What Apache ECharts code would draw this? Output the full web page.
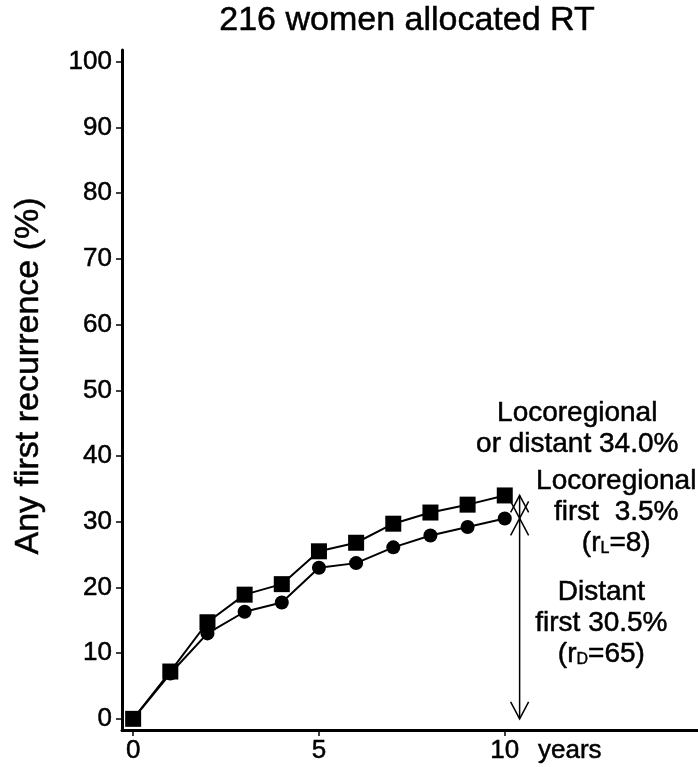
<!DOCTYPE html>
<html>
<head>
<meta charset="utf-8">
<title>216 women allocated RT</title>
<script src="https://cdn.jsdelivr.net/npm/echarts@6/dist/echarts.min.js"></script>
<style>
  html, body { margin: 0; padding: 0; background: #fff; }
  #chart { width: 698px; height: 767px; }
</style>
</head>
<body>
<div id="chart"></div>
<script>
// Follow-up time (years)
const years = [0, 1, 2, 3, 4, 5, 6, 7, 8, 9, 10];
// Cumulative any first recurrence, locoregional or distant (%)
const anyFirstRecurrence = [0, 7.2, 14.7, 18.9, 20.5, 25.5, 26.8, 29.7, 31.4, 32.6, 34.0];
// Cumulative distant first recurrence (%)
const distantFirst = [0, 6.9, 13.0, 16.3, 17.7, 23.0, 23.7, 26.1, 27.9, 29.2, 30.5];

// Axis ticks
const xTicks = [0, 5, 10];
const yTicks = [0, 10, 20, 30, 40, 50, 60, 70, 80, 90, 100];
const xUnit = 'years';

// Brackets at 10 years: [x, from, to] in axis units
const brackets = [
  [10.4, 0, 30.5],
  [10.4, 30.5, 34.0]
];

const FONT = "'Liberation Sans', Arial, Helvetica, sans-serif";
const UNIT_AT = 11.75;
// slight outline so the glyphs print as dark as the axes
const INK = { textBorderColor: '#000', textBorderWidth: 0.5 };

const pairs = (ys) => years.map((x, i) => [x, ys[i]]);

// Text notes next to the 10-year brackets
const notes = [
  { at: [11.95, 44.1], text: 'Locoregional\nor distant 34.0%' },
  { at: [13.0, 31.5], text: 'Locoregional\nfirst  3.5%\n(r{sub|L}=8)' },
  { at: [12.6, 14.6], text: 'Distant\nfirst 30.5%\n(r{sub|D}=65)' }
];

const chart = echarts.init(document.getElementById('chart'), null, { renderer: 'canvas' });

chart.setOption({
  animation: false,
  backgroundColor: '#fff',
  title: {
    text: '216 women allocated RT',
    left: 402,
    top: -1,
    textAlign: 'center',
    textStyle: Object.assign({ fontFamily: FONT, fontSize: 34, fontWeight: 'normal', color: '#000' }, INK)
  },
  grid: { left: 122, right: 0, top: 50, bottom: 37 },
  xAxis: {
    type: 'value',
    min: -0.3,
    max: 15.2,
    splitLine: { show: false },
    axisLine: { onZero: false, lineStyle: { color: '#000', width: 3 } },
    axisTick: { customValues: xTicks, length: 6, lineStyle: { color: '#000', width: 1.5 } },
    axisLabel: Object.assign({
      customValues: xTicks.concat([UNIT_AT]),
      formatter: (v) => (v === UNIT_AT ? xUnit : String(v)),
      margin: 8,
      fontFamily: FONT, fontSize: 26, color: '#000'
    }, INK)
  },
  yAxis: {
    type: 'value',
    min: -1.7,
    max: 101.8,
    name: 'Any first recurrence (%)',
    nameLocation: 'middle',
    nameRotate: 90,
    nameGap: 76,
    nameTextStyle: Object.assign({ fontFamily: FONT, fontSize: 34, color: '#000', padding: [0, 0, 0, 28] }, INK),
    splitLine: { show: false },
    axisLine: { onZero: false, lineStyle: { color: '#000', width: 3 } },
    axisTick: { customValues: yTicks, length: 6, lineStyle: { color: '#000', width: 1.5 } },
    axisLabel: Object.assign({
      customValues: yTicks,
      margin: 10,
      fontFamily: FONT, fontSize: 26, color: '#000'
    }, INK)
  },
  series: [
    {
      name: 'Distant first',
      type: 'line',
      data: pairs(distantFirst),
      symbol: 'circle',
      symbolSize: 14,
      lineStyle: { color: '#000', width: 2 },
      itemStyle: { color: '#000' },
      z: 2
    },
    {
      name: 'Locoregional or distant',
      type: 'line',
      data: pairs(anyFirstRecurrence),
      symbol: 'rect',
      symbolSize: 16,
      lineStyle: { color: '#000', width: 2 },
      itemStyle: { color: '#000' },
      z: 3
    },
    {
      name: 'brackets',
      type: 'custom',
      data: brackets,
      encode: { x: 0, y: [1, 2] },
      silent: true,
      z: 4,
      renderItem: (params, api) => {
        const x = api.value(0);
        const lo = api.coord([x, api.value(1)]);
        const hi = api.coord([x, api.value(2)]);
        const hw = 9, hl = 17;
        const st = { stroke: '#000', lineWidth: 1.5, fill: null };
        return {
          type: 'group',
          children: [
            { type: 'line', shape: { x1: lo[0], y1: lo[1], x2: hi[0], y2: hi[1] }, style: st },
            { type: 'polyline', shape: { points: [[lo[0] - hw, lo[1] - hl], [lo[0], lo[1]], [lo[0] + hw, lo[1] - hl]] }, style: st },
            { type: 'polyline', shape: { points: [[hi[0] - hw, hi[1] + hl], [hi[0], hi[1]], [hi[0] + hw, hi[1] + hl]] }, style: st }
          ]
        };
      }
    },
    {
      name: 'notes',
      type: 'custom',
      data: notes.map((n) => n.at),
      encode: { x: 0, y: 1 },
      silent: true,
      z: 5,
      renderItem: (params, api) => {
        const p = api.coord([api.value(0), api.value(1)]);
        return {
          type: 'text',
          x: p[0],
          y: p[1],
          style: {
            text: notes[params.dataIndex].text,
            align: 'center',
            verticalAlign: 'middle',
            fontFamily: FONT,
            fontSize: 28,
            lineHeight: 31,
            fill: '#000',
            stroke: '#000',
            lineWidth: 0.5,
            rich: {
              sub: { fontFamily: FONT, fontSize: 16, padding: [12, 0, 0, 0], fill: '#000', stroke: '#000', lineWidth: 0.4 }
            }
          }
        };
      }
    }
  ]
});
</script>
</body>
</html>
